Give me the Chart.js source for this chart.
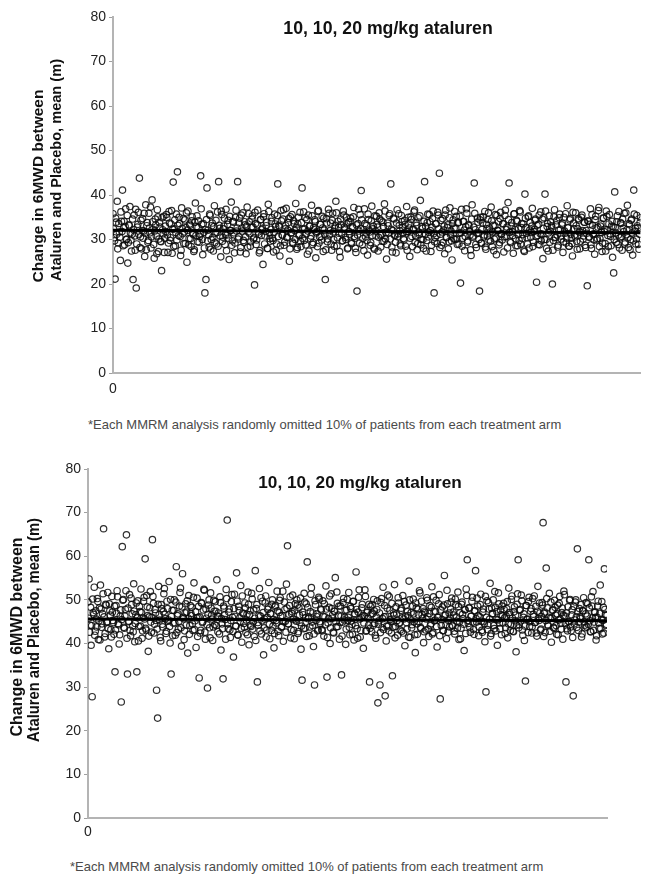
<!DOCTYPE html>
<html>
<head>
<meta charset="utf-8">
<script src="https://cdn.jsdelivr.net/npm/chart.js@4"></script>
<style>
  body { margin: 0; background: #fff; width: 645px; height: 875px; position: relative; overflow: hidden;
         font-family: "Liberation Sans", Arial, sans-serif; }
  .panel { position: absolute; left: 0; width: 645px; }
  #p1 { top: 0; height: 400px; }
  #p2 { top: 440px; height: 410px; }
  .note { position: absolute; font-size: 13px; line-height: 14px; color: #4a4a4a; white-space: nowrap; }
</style>
</head>
<body>
<div class="panel" id="p1"><canvas id="c1"></canvas></div>
<div class="note" id="n1" style="left:88px;top:418px"></div>
<div class="panel" id="p2"><canvas id="c2"></canvas></div>
<div class="note" id="n2" style="left:70px;top:860px"></div>
<script>
// values, one per simulated analysis.
// "A" runs sit on even run numbers, "B" runs on odd ones.
const topValuesA = [
  35.8, 30.4, 21.1, 33.9, 38.6, 29.2, 31.7, 25.3, 34.1, 41.1, 32.6, 28.8, 36.9, 30.1, 24.7, 33.3, 37.4, 29.9, 31.2, 21.0, 35.5, 27.6, 19.1, 32.8, 36.1,
  43.8, 30.6, 27.9, 34.7, 31.9, 26.2, 37.8, 33.1, 29.4, 35.9, 31.5, 28.1, 38.9, 32.3, 25.8, 34.6, 30.8, 36.7, 27.3, 33.8, 29.6, 23.0, 32.2, 35.2, 30.3,
  31.8, 34.9, 27.1, 36.3, 29.8, 33.5, 26.9, 42.9, 32.4, 28.6, 35.7, 45.2, 30.9, 33.6, 26.4, 37.1, 31.3, 29.1, 34.4, 32.7, 24.9, 36.4, 30.2, 33.2, 28.4,
  35.1, 31.1, 27.7, 38.2, 32.9, 29.5, 34.2, 30.7, 44.3, 33.4, 26.6, 31.6, 18.0, 21.0, 41.6, 32.1, 28.3, 35.4, 30.0, 33.7, 27.4, 37.6, 31.4, 29.0, 36.2,
  43.0, 32.5, 26.1, 35.6, 30.5, 33.0, 28.9, 36.8, 31.0, 34.3, 25.5, 32.0, 38.4, 29.7, 33.9, 27.0, 35.0, 31.9, 43.0, 30.6, 34.8, 28.2, 32.6, 36.0, 29.3,
  33.3, 26.8, 37.3, 31.7, 34.0, 28.5, 32.8, 35.3, 30.1, 19.8, 33.6, 29.9, 36.6, 31.2, 27.5, 34.5, 32.2, 24.4, 35.8, 30.8, 33.1, 28.0, 37.9, 31.5, 29.6,
  34.1, 30.3, 27.2, 35.7, 32.9, 29.0, 42.5, 33.2, 26.3, 36.5, 31.0, 34.6, 28.7, 32.4, 37.0, 30.4, 33.8, 25.1, 35.1, 31.6, 29.4, 34.2, 32.0, 38.1, 27.8,
  33.5, 30.9, 36.1, 28.4, 41.6, 32.3, 29.8, 34.9, 31.3, 26.7, 35.5, 33.0, 30.2, 37.7, 28.9, 32.7, 34.4, 25.9, 31.8, 36.3, 29.2, 33.4, 30.7, 35.2, 27.3,
  32.1, 21.0, 34.7, 29.5, 36.8, 31.1, 33.7, 27.6, 35.9, 30.0, 32.5, 38.6, 28.6, 34.1, 31.4, 26.0, 33.3, 29.7, 36.4, 32.8, 30.5, 35.0, 27.9, 33.9, 31.2,
  34.8, 29.1, 32.6, 37.2, 30.3, 27.1, 18.4, 33.6, 31.9, 35.6, 41.0, 28.8, 32.2, 36.9, 30.6, 33.1, 26.5, 34.5, 31.7, 29.3, 37.5, 32.4, 28.1, 35.3, 30.8,
  33.4, 27.4, 36.0, 31.0, 34.2, 29.6, 32.9, 38.0, 30.1, 25.6, 33.7, 31.5, 35.8, 42.5, 28.3, 32.0, 34.6, 30.9, 27.0, 36.7, 31.3, 33.2, 29.0, 35.4, 32.7,
  30.2, 34.3, 28.5, 37.4, 31.8, 33.5, 26.2, 35.1, 30.7, 32.3, 36.2, 29.4, 33.8, 27.7, 34.9, 31.1, 38.8, 30.0, 32.5, 28.0, 43.0, 33.0, 29.8, 35.7, 31.6,
  34.0, 27.3, 32.8, 36.4, 18.0, 30.4, 33.6, 29.1, 35.5, 44.9, 31.2, 28.7, 34.7, 32.1, 26.8, 36.6, 30.5, 33.3, 29.5, 37.1, 31.9, 25.4, 34.4, 32.6, 30.0,
  35.2, 28.9, 33.9, 31.4, 20.2, 36.8, 30.3, 34.1, 27.5, 32.9, 35.9, 29.7, 33.1, 31.0, 26.4, 37.8, 30.8, 42.7, 32.2, 28.2, 34.8, 31.5, 18.4, 35.0, 29.2,
  33.7, 30.6, 36.3, 27.8, 32.4, 34.5, 29.9, 31.7, 37.3, 28.4, 33.2, 30.1, 35.6, 26.6, 32.0, 34.0, 29.3, 36.1, 31.3, 33.5, 27.2, 35.4, 30.7, 32.8, 38.3,
  42.7, 29.6, 33.0, 31.8, 26.9, 35.8, 30.2, 34.3, 28.6, 32.5, 36.5, 29.0, 33.6, 31.1, 27.6, 40.2, 32.7, 30.4, 35.1, 28.1, 33.8, 31.6, 37.0, 29.4, 32.3,
  34.6, 20.4, 30.9, 33.4, 28.8, 36.2, 31.2, 25.7, 34.9, 40.2, 30.0, 32.9, 27.4, 35.3, 31.9, 33.1, 20.0, 29.8, 36.7, 30.5, 34.2, 28.3, 32.1, 35.7, 30.8,
  33.3, 27.1, 35.0, 31.4, 29.2, 37.6, 32.6, 28.5, 34.7, 30.3, 26.3, 33.7, 31.0, 36.0, 29.6, 32.4, 34.4, 27.9, 31.7, 35.5, 30.1, 33.9, 28.7, 32.0, 19.6,
  34.1, 30.6, 36.9, 28.0, 33.2, 31.3, 26.7, 35.2, 29.9, 32.8, 37.2, 30.2, 33.5, 27.3, 34.8, 31.8, 29.1, 36.4, 32.2, 28.4, 35.6, 30.7, 33.0, 26.0, 22.5,
  40.7, 31.5, 34.0, 28.9, 36.3, 30.4, 33.6, 27.6, 32.5, 35.9, 29.4, 31.1, 37.7, 28.2, 33.3, 30.0, 34.6, 26.5, 41.1, 31.9, 29.0, 35.4, 32.7, 27.8, 33.8
];
const topValuesB = [
  32.4, 29.7, 34.8, 31.2, 27.9, 33.6, 30.5, 36.2, 31.8, 28.6, 34.1, 32.9, 30.0, 35.4, 29.3, 33.1, 31.5, 27.4, 34.6, 32.2, 30.8, 36.8, 29.0, 33.4, 31.1,
  28.2, 34.3, 32.0, 30.3, 35.9, 31.4, 27.7, 33.8, 29.8, 32.6, 37.3, 30.6, 34.0, 28.9, 31.9, 33.3, 26.8, 35.1, 30.1, 32.8, 29.5, 34.9, 31.3, 27.1, 33.0,
  35.6, 31.0, 29.2, 33.7, 30.4, 36.5, 32.3, 28.4, 34.4, 31.6, 29.9, 33.2, 35.0, 30.7, 27.6, 32.5, 34.7, 31.7, 29.1, 36.0, 32.1, 28.8, 33.5, 30.2, 34.2,
  31.4, 27.3, 33.9, 30.9, 35.3, 32.7, 29.4, 31.2, 36.9, 30.0, 33.6, 28.1, 32.2, 34.5, 29.7, 31.0, 35.7, 27.8, 33.1, 30.5, 32.9, 29.3, 34.3, 31.6, 28.5,
  33.2, 30.8, 36.4, 29.6, 32.4, 34.8, 31.1, 27.5, 33.4, 30.3, 35.2, 32.0, 28.7, 34.1, 31.5, 29.2, 36.6, 32.6, 30.1, 33.7, 27.2, 35.5, 31.9, 29.8, 34.0,
  30.6, 33.0, 28.3, 35.8, 31.3, 29.5, 34.6, 32.8, 30.4, 36.1, 28.9, 33.3, 31.7, 27.0, 34.4, 30.9, 32.5, 35.1, 29.0, 31.8, 33.9, 28.0, 36.3, 30.2, 32.3,
  34.9, 29.8, 31.6, 33.5, 27.6, 35.4, 30.7, 32.9, 28.6, 34.2, 31.0, 36.7, 29.4, 33.1, 30.5, 32.1, 34.7, 27.9, 31.4, 35.6, 29.1, 33.6, 30.0, 32.7, 28.2,
  35.0, 31.2, 29.6, 33.8, 30.3, 36.2, 32.4, 28.8, 34.5, 31.9, 27.4, 33.0, 30.8, 35.3, 29.3, 32.2, 34.0, 31.5, 28.4, 36.5, 30.6, 33.4, 29.9, 32.6, 34.8,
  31.1, 27.7, 33.7, 30.1, 35.9, 32.0, 29.0, 34.3, 31.7, 28.5, 33.2, 36.0, 30.4, 32.8, 27.3, 34.6, 31.3, 29.7, 35.5, 32.4, 30.0, 33.5, 28.1, 31.8, 34.1,
  29.4, 32.9, 35.1, 30.7, 28.0, 33.3, 31.0, 36.8, 29.2, 32.5, 34.4, 30.2, 27.5, 33.6, 31.5, 29.8, 35.7, 32.1, 28.7, 34.2, 30.9, 33.0, 27.8, 31.9, 35.2,
  32.8, 30.5, 34.6, 28.3, 31.2, 33.9, 29.6, 36.4, 31.6, 28.9, 33.1, 35.4, 30.1, 32.3, 27.2, 34.8, 31.0, 29.4, 33.7, 30.6, 35.8, 32.0, 28.6, 34.0, 31.4,
  29.9, 33.4, 31.8, 27.6, 35.0, 32.6, 30.3, 34.5, 28.4, 32.2, 36.6, 30.8, 33.2, 29.1, 31.6, 35.3, 28.8, 32.9, 30.0, 34.1, 31.2, 27.4, 33.8, 30.6, 35.6,
  32.0, 28.7, 34.7, 31.3, 29.5, 33.5, 30.9, 36.1, 32.4, 28.2, 34.3, 31.7, 29.3, 33.0, 35.5, 30.4, 32.7, 27.9, 34.9, 31.1, 29.7, 33.6, 30.2, 36.3, 32.5,
  30.1, 33.7, 29.0, 35.2, 31.5, 28.5, 34.0, 32.1, 30.7, 36.9, 29.4, 33.3, 31.9, 27.7, 34.6, 30.5, 32.8, 35.9, 28.9, 31.4, 33.9, 30.0, 34.4, 29.2, 32.3,
  35.1, 31.0, 28.3, 33.4, 30.8, 36.0, 32.6, 29.6, 34.2, 31.7, 27.5, 33.1, 30.3, 35.4, 32.0, 28.8, 34.7, 31.2, 29.9, 33.6, 30.6, 36.6, 32.2, 28.1, 34.5,
  31.6, 29.3, 33.8, 30.9, 35.7, 32.3, 28.6, 34.1, 31.1, 29.8, 36.2, 32.7, 30.2, 33.5, 27.3, 34.8, 31.4, 29.0, 35.3, 32.1, 30.5, 33.0, 28.4, 31.8, 34.3,
  30.7, 33.2, 28.9, 35.5, 31.3, 29.7, 34.6, 32.5, 30.0, 36.4, 28.0, 33.6, 31.5, 29.4, 34.0, 32.8, 27.6, 35.1, 30.4, 33.3, 31.0, 28.7, 34.9, 32.2, 30.1,
  33.7, 29.5, 31.9, 35.8, 30.3, 32.7, 28.5, 34.4, 31.2, 29.1, 36.1, 32.4, 30.6, 33.1, 27.8, 34.7, 31.7, 29.6, 35.0, 32.0, 30.8, 33.9, 28.2, 31.4, 34.2,
  30.5, 33.4, 28.8, 35.6, 31.1, 29.9, 34.5, 32.6, 30.2, 36.5, 28.4, 33.0, 31.6, 29.2, 34.8, 32.3, 27.4, 35.2, 30.9, 33.5, 31.3, 28.6, 34.1, 32.9, 30.0,
  32.7, 29.4, 35.3, 31.0, 28.1, 33.8, 30.7, 34.6, 31.8, 29.0, 36.0, 32.2, 30.4, 33.6, 27.7, 34.3, 31.5, 29.7, 35.7, 32.5, 30.1, 33.1, 28.9, 31.2, 34.9
];
const bottomValuesA = [
  49.5, 54.8, 44.2, 39.6, 27.8, 47.1, 52.9, 42.8, 45.6, 50.3, 40.9, 48.2, 53.4, 43.7, 46.8, 66.3, 41.5, 49.0, 44.9, 51.7, 38.8, 47.5, 43.2, 50.8, 45.3,
  42.1, 33.5, 48.7, 52.1, 44.6, 39.9, 46.3, 26.6, 62.2, 50.1, 43.5, 47.8, 64.9, 33.0, 45.0, 51.2, 41.8, 48.9, 44.0, 53.7, 40.4, 46.6, 33.5, 49.8, 43.9,
  47.3, 52.5, 41.2, 45.9, 50.6, 59.4, 43.1, 48.4, 38.2, 46.1, 51.9, 42.6, 63.8, 49.2, 44.4, 47.0, 29.3, 22.9, 53.1, 45.4, 40.6, 48.0, 43.8, 51.4, 46.7,
  42.3, 49.7, 45.1, 54.2, 40.1, 33.0, 47.6, 44.7, 50.0, 41.9, 57.6, 46.4, 43.3, 48.6, 52.7, 39.4, 56.0, 45.7, 42.9, 49.1, 47.2, 37.8, 51.0, 44.1, 46.9,
  48.3, 43.0, 53.9, 45.2, 39.1, 50.4, 46.0, 32.1, 42.4, 49.4, 44.8, 47.7, 52.2, 41.0, 45.8, 29.8, 48.8, 43.6, 51.6, 46.5, 40.7, 49.9, 44.3, 47.4, 54.6,
  42.7, 46.2, 50.7, 38.5, 44.5, 31.9, 48.1, 45.5, 52.4, 68.3, 43.4, 47.9, 41.4, 49.6, 46.0, 36.9, 51.3, 44.0, 56.2, 42.0, 48.5, 45.9, 53.3, 40.3, 47.0,
  44.6, 49.3, 42.5, 46.7, 51.8, 39.7, 47.5, 43.9, 50.2, 45.0, 41.6, 56.7, 48.0, 31.2, 44.2, 52.6, 46.3, 42.2, 49.7, 37.4, 45.6, 50.9, 43.1, 47.8, 54.0,
  41.1, 46.8, 49.0, 44.0, 39.0, 48.4, 45.3, 52.0, 42.8, 47.1, 50.5, 43.7, 46.4, 40.5, 49.5, 45.1, 53.6, 62.4, 44.5, 48.7, 41.3, 46.9, 51.1, 43.0, 47.6,
  45.4, 50.0, 42.3, 48.2, 44.8, 38.7, 31.6, 46.6, 51.5, 43.5, 49.1, 58.7, 45.7, 41.8, 47.3, 52.8, 44.1, 39.3, 30.5, 48.9, 46.2, 42.9, 50.6, 45.0, 47.9,
  43.2, 49.8, 41.7, 46.1, 53.2, 32.3, 44.7, 48.3, 40.0, 51.4, 45.8, 42.6, 47.4, 55.1, 43.8, 49.2, 46.5, 41.0, 48.6, 32.8, 44.9, 50.3, 46.0, 39.8, 47.7,
  45.3, 51.7, 42.0, 48.0, 44.4, 49.6, 40.8, 46.7, 56.4, 43.4, 47.2, 52.3, 41.5, 45.9, 49.0, 38.9, 46.3, 50.8, 43.0, 47.5, 44.2, 31.2, 48.5, 42.7, 46.9,
  50.1, 44.6, 41.2, 47.8, 26.4, 45.2, 30.5, 49.4, 43.6, 52.9, 46.1, 28.0, 40.6, 48.1, 44.0, 50.7, 45.5, 42.4, 32.6, 47.0, 53.5, 43.9, 46.8, 41.9, 49.3,
  44.8, 47.6, 42.8, 51.0, 45.6, 39.5, 48.8, 43.3, 46.4, 54.3, 41.4, 47.1, 44.3, 50.2, 45.0, 37.9, 48.2, 42.1, 46.6, 52.1, 43.7, 49.7, 45.8, 40.2, 47.4,
  43.1, 50.5, 46.2, 41.6, 48.7, 44.5, 53.0, 42.5, 47.3, 45.4, 49.9, 39.2, 46.0, 51.2, 27.3, 44.1, 48.4, 42.9, 55.6, 46.7, 41.1, 49.1, 45.3, 43.8, 47.9,
  50.4, 44.0, 46.5, 42.2, 48.9, 45.1, 51.8, 40.9, 47.0, 43.5, 49.5, 45.7, 38.4, 47.7, 52.5, 59.2, 44.6, 48.1, 42.6, 46.3, 50.6, 43.2, 47.5, 56.7, 44.9,
  48.6, 41.8, 46.1, 51.3, 43.0, 47.2, 45.0, 40.4, 28.9, 49.8, 44.2, 47.9, 53.8, 42.3, 46.8, 50.0, 43.4, 48.3, 45.5, 39.6, 51.6, 44.7, 47.6, 42.0, 46.4,
  49.2, 45.9, 43.6, 48.0, 41.3, 52.7, 46.6, 44.4, 50.9, 42.8, 47.3, 45.2, 38.1, 49.0, 59.2, 44.3, 47.8, 51.1, 43.1, 46.0, 40.7, 31.4, 48.7, 45.6, 49.6,
  43.9, 47.4, 42.4, 50.3, 46.2, 44.8, 48.5, 41.7, 53.1, 45.3, 47.0, 43.3, 49.4, 67.7, 46.9, 42.5, 57.3, 48.2, 44.0, 51.5, 45.8, 40.3, 47.6, 43.7, 49.9,
  46.5, 42.1, 48.8, 45.4, 50.8, 44.6, 47.1, 41.0, 52.0, 46.3, 31.2, 43.4, 48.4, 45.0, 50.1, 42.9, 47.7, 28.0, 44.5, 49.5, 46.1, 61.7, 43.0, 48.0, 45.7,
  41.5, 47.5, 50.5, 44.2, 46.8, 43.8, 49.1, 59.2, 45.2, 42.7, 48.6, 51.9, 44.9, 47.2, 40.8, 46.0, 49.7, 43.5, 53.4, 45.5, 42.2, 48.3, 57.1, 46.7, 44.4
];
const bottomValuesB = [
  45.8, 42.6, 48.3, 44.1, 50.2, 46.7, 41.9, 47.5, 43.8, 49.6, 45.2, 40.8, 47.9, 44.5, 51.4, 46.1, 42.3, 48.8, 45.0, 43.4, 49.1, 46.5, 41.5, 47.2, 44.8,
  48.6, 43.1, 46.9, 50.7, 44.3, 42.0, 47.7, 45.5, 49.9, 43.7, 46.3, 52.1, 41.2, 48.1, 45.1, 43.0, 50.4, 46.8, 42.7, 47.4, 44.6, 49.3, 45.9, 40.6, 48.5,
  44.0, 47.1, 42.9, 49.7, 45.6, 43.5, 51.0, 46.4, 41.7, 48.2, 44.9, 46.0, 50.8, 42.4, 47.8, 45.3, 43.3, 49.0, 46.6, 41.4, 48.9, 44.4, 47.3, 52.6, 45.7,
  42.8, 48.0, 45.4, 43.9, 50.1, 46.2, 41.8, 47.6, 44.7, 49.5, 42.5, 46.8, 45.1, 51.7, 43.6, 48.4, 46.0, 40.9, 47.0, 44.2, 49.8, 45.8, 42.1, 48.7, 46.4,
  44.5, 50.6, 43.2, 47.3, 45.9, 41.6, 48.5, 46.1, 43.0, 49.2, 45.0, 52.4, 42.6, 47.9, 44.3, 46.7, 50.0, 41.3, 48.1, 45.6, 43.8, 47.4, 49.6, 44.1, 46.3,
  47.0, 42.2, 49.4, 45.7, 43.4, 48.6, 46.5, 41.0, 50.3, 44.6, 47.2, 43.1, 45.3, 51.2, 42.8, 48.0, 46.2, 44.0, 49.7, 41.9, 47.6, 45.1, 43.5, 50.9, 46.8,
  43.7, 48.2, 45.4, 42.0, 49.0, 46.6, 44.2, 51.5, 43.3, 47.7, 45.8, 40.7, 48.9, 44.8, 46.4, 42.9, 50.5, 45.2, 47.1, 43.6, 49.3, 41.5, 46.0, 48.4, 44.4,
  46.9, 43.0, 50.0, 45.5, 42.3, 48.7, 44.7, 47.5, 41.8, 49.9, 46.3, 43.9, 52.0, 45.0, 47.8, 42.6, 48.1, 44.5, 46.7, 50.7, 43.2, 47.3, 45.6, 41.1, 49.1,
  45.1, 48.8, 42.7, 46.5, 50.4, 44.0, 47.2, 43.4, 49.5, 45.9, 41.6, 48.3, 46.1, 43.8, 51.3, 44.9, 47.0, 42.2, 49.8, 45.3, 46.8, 43.1, 50.2, 44.6, 47.7,
  42.9, 46.2, 49.1, 44.3, 47.9, 41.4, 45.7, 50.9, 43.6, 48.0, 46.6, 42.4, 47.4, 45.0, 51.8, 43.9, 48.6, 44.8, 46.3, 41.7, 49.4, 45.4, 47.6, 43.3, 50.1,
  46.0, 43.7, 48.5, 45.2, 42.1, 49.7, 46.9, 44.1, 47.8, 41.2, 50.6, 45.6, 43.0, 48.2, 46.4, 44.7, 52.3, 42.8, 47.1, 45.8, 49.0, 43.5, 46.7, 48.9, 44.2,
  47.5, 41.9, 46.1, 49.8, 44.4, 47.0, 42.5, 50.3, 45.7, 43.2, 48.7, 46.2, 44.0, 51.1, 42.9, 47.6, 45.1, 49.2, 43.7, 46.5, 41.3, 48.4, 45.3, 50.5, 44.6,
  43.1, 48.1, 45.9, 42.4, 49.6, 46.3, 44.8, 47.3, 41.5, 50.0, 45.4, 43.6, 48.6, 46.8, 42.0, 49.3, 44.5, 47.9, 45.0, 51.6, 43.4, 46.6, 48.0, 42.7, 47.1,
  45.6, 49.9, 43.3, 46.9, 44.1, 48.3, 42.2, 50.7, 45.2, 47.4, 43.9, 46.0, 49.1, 41.8, 47.7, 45.5, 43.0, 48.8, 46.4, 44.3, 52.2, 42.6, 47.0, 45.8, 49.5,
  44.2, 47.2, 42.8, 50.2, 46.1, 43.5, 48.5, 45.0, 41.1, 49.0, 46.7, 44.4, 47.8, 42.3, 51.0, 45.3, 48.2, 43.7, 46.2, 49.7, 44.9, 42.1, 47.5, 45.7, 50.4,
  46.4, 43.8, 48.9, 45.1, 42.6, 47.9, 44.6, 50.8, 46.0, 43.2, 49.4, 45.6, 41.7, 48.1, 46.9, 44.1, 51.9, 42.9, 47.3, 45.4, 49.1, 43.4, 46.6, 48.6, 44.7,
  47.8, 42.3, 46.3, 49.6, 44.5, 47.1, 43.0, 50.1, 45.8, 42.7, 48.4, 46.5, 44.2, 51.4, 43.6, 47.6, 45.2, 49.8, 41.9, 46.8, 44.0, 48.7, 45.5, 42.5, 50.6,
  45.0, 48.0, 43.9, 46.7, 50.9, 44.8, 42.4, 47.4, 45.7, 49.3, 43.1, 46.2, 48.8, 41.6, 47.2, 45.3, 50.3, 44.3, 46.0, 42.8, 49.5, 45.9, 47.7, 43.5, 48.3,
  44.1, 46.8, 42.0, 49.2, 45.6, 43.3, 48.1, 46.4, 51.2, 44.6, 47.0, 42.9, 45.1, 49.9, 43.8, 46.6, 41.4, 48.5, 45.4, 50.0, 43.7, 47.3, 44.9, 46.1, 48.9,
  42.2, 47.5, 45.0, 43.6, 49.4, 46.3, 44.4, 48.2, 42.7, 50.7, 45.9, 43.0, 47.1, 46.0, 41.8, 48.6, 44.7, 46.9, 43.4, 49.6, 45.3, 42.4, 47.8, 44.2, 46.5
];
// fitted mean line, value at first and last run
const topMean = [32.1, 31.5];
const bottomMean = [45.6, 45.2];
const yTicks = [0, 10, 20, 30, 40, 50, 60, 70, 80];
const xTicks = [0];

const panelTitle = '10, 10, 20 mg/kg ataluren';
const yTitle = ['Change in 6MWD between', 'Ataluren and Placebo, mean (m)'];
const footnote = '*Each MMRM analysis randomly omitted 10% of patients from each treatment arm';

const FONT = '"Liberation Sans", Arial, sans-serif';

// draws the in-plot title and the two-line rotated y title
const panelText = {
  id: 'panelText',
  afterDraw(chart, args, o) {
    const ctx = chart.ctx;
    ctx.save();
    ctx.fillStyle = '#111';
    ctx.textAlign = 'center';
    ctx.textBaseline = 'middle';
    ctx.font = 'bold ' + o.titleSize + 'px ' + FONT;
    ctx.fillText(o.title, o.titleX, o.titleY);
    ctx.font = 'bold ' + o.ySize + 'px ' + FONT;
    o.yLines.forEach((t, i) => {
      ctx.save();
      ctx.translate(o.yX[i], o.yY[i]);
      ctx.rotate(-Math.PI / 2);
      ctx.fillText(t, 0, 0, o.yW[i]);
      ctx.restore();
    });
    ctx.restore();
  }
};

function toPoints(a, b) {
  const pts = [];
  a.forEach((v, i) => pts.push({ x: 2 * i, y: v }));
  b.forEach((v, i) => pts.push({ x: 2 * i + 1, y: v }));
  return pts;
}

function buildChart(id, a, b, mean, g) {
  const last = a.length + b.length - 1;
  return new Chart(document.getElementById(id), {
    type: 'scatter',
    data: {
      datasets: [
        {
          data: toPoints(a, b),
          pointRadius: 3.2,
          pointHoverRadius: 3.2,
          pointBorderWidth: 1.2,
          borderColor: 'rgba(10,10,10,0.85)',
          backgroundColor: 'rgba(0,0,0,0)',
          order: 2
        },
        {
          type: 'line',
          data: [{ x: 0, y: mean[0] }, { x: last, y: mean[1] }],
          borderColor: '#000',
          borderWidth: 3,
          pointRadius: 0,
          order: 1
        }
      ]
    },
    options: {
      responsive: true,
      maintainAspectRatio: false,
      animation: false,
      events: [],
      layout: { padding: { top: g.top, left: 0, right: g.right, bottom: 0 } },
      plugins: {
        legend: { display: false },
        tooltip: { enabled: false },
        panelText: {
          title: panelTitle, titleSize: g.titleSize, titleX: g.titleX, titleY: g.titleY,
          yLines: yTitle, ySize: g.ySize, yX: g.yX, yY: g.yY, yW: g.yW
        }
      },
      scales: {
        x: {
          type: 'linear',
          min: 0,
          max: last,
          afterBuildTicks: s => { s.ticks = xTicks.map(v => ({ value: v })); },
          afterFit: s => { s.height = g.xh; },
          grid: { drawOnChartArea: false, drawTicks: false },
          border: { color: '#b4b4b4', width: 2 },
          ticks: { color: '#222', font: { family: FONT, size: 14 }, padding: g.xpad }
        },
        y: {
          min: 0,
          max: 80,
          afterBuildTicks: s => { s.ticks = yTicks.map(v => ({ value: v })); },
          afterFit: s => { s.width = g.left; },
          grid: { drawOnChartArea: false, drawTicks: true, tickLength: 4, color: '#a0a0a0', lineWidth: 1 },
          border: { color: '#b4b4b4', width: 2 },
          ticks: { color: '#222', font: { family: FONT, size: 14 }, padding: 3 }
        }
      }
    },
    plugins: [panelText]
  });
}

document.getElementById('n1').textContent = footnote;
document.getElementById('n2').textContent = footnote;

buildChart('c1', topValuesA, topValuesB, topMean, {
  top: 17, right: 0, left: 113, xh: 27, xpad: 8,
  titleSize: 17.7, titleX: 388, titleY: 29,
  ySize: 15.5, yX: [39, 57], yY: [186, 170], yW: [215, 222]
});
buildChart('c2', bottomValuesA, bottomValuesB, bottomMean, {
  top: 29, right: 38, left: 88, xh: 32, xpad: 6,
  titleSize: 17.2, titleX: 360, titleY: 43,
  ySize: 16, yX: [18, 35], yY: [637 - 440, 630 - 440], yW: [222, 224]
});
</script>
</body>
</html>
